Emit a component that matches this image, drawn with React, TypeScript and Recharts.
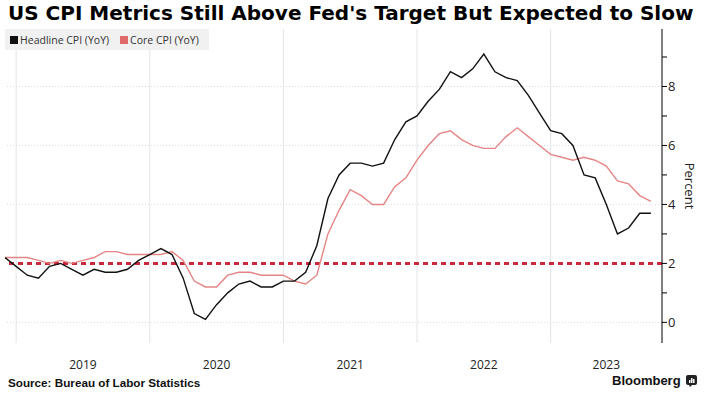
import React from 'react';
import { LineChart, Line, XAxis, YAxis, ReferenceLine, Legend } from 'recharts';

// Monthly observations, Nov 2018 .. Sep 2023 (plotted at month end)
const months = [
  '2018-11','2018-12',
  '2019-01','2019-02','2019-03','2019-04','2019-05','2019-06','2019-07','2019-08','2019-09','2019-10','2019-11','2019-12',
  '2020-01','2020-02','2020-03','2020-04','2020-05','2020-06','2020-07','2020-08','2020-09','2020-10','2020-11','2020-12',
  '2021-01','2021-02','2021-03','2021-04','2021-05','2021-06','2021-07','2021-08','2021-09','2021-10','2021-11','2021-12',
  '2022-01','2022-02','2022-03','2022-04','2022-05','2022-06','2022-07','2022-08','2022-09','2022-10','2022-11','2022-12',
  '2023-01','2023-02','2023-03','2023-04','2023-05','2023-06','2023-07','2023-08','2023-09',
];

const headlineCPI = [
  2.2, 1.9,
  1.6, 1.5, 1.9, 2.0, 1.8, 1.6, 1.8, 1.7, 1.7, 1.8, 2.1, 2.3,
  2.5, 2.3, 1.5, 0.3, 0.1, 0.6, 1.0, 1.3, 1.4, 1.2, 1.2, 1.4,
  1.4, 1.7, 2.6, 4.2, 5.0, 5.4, 5.4, 5.3, 5.4, 6.2, 6.8, 7.0,
  7.5, 7.9, 8.5, 8.3, 8.6, 9.1, 8.5, 8.3, 8.2, 7.7, 7.1, 6.5,
  6.4, 6.0, 5.0, 4.9, 4.0, 3.0, 3.2, 3.7, 3.7,
];

const coreCPI = [
  2.2, 2.2,
  2.2, 2.1, 2.0, 2.1, 2.0, 2.1, 2.2, 2.4, 2.4, 2.3, 2.3, 2.3,
  2.3, 2.4, 2.1, 1.4, 1.2, 1.2, 1.6, 1.7, 1.7, 1.6, 1.6, 1.6,
  1.4, 1.3, 1.6, 3.0, 3.8, 4.5, 4.3, 4.0, 4.0, 4.6, 4.9, 5.5,
  6.0, 6.4, 6.5, 6.2, 6.0, 5.9, 5.9, 6.3, 6.6, 6.3, 6.0, 5.7,
  5.6, 5.5, 5.6, 5.5, 5.3, 4.8, 4.7, 4.3, 4.1,
];

const fedTarget = 2;

// x is measured in months from 1 Jan 2019
const yearBoundaries = [0, 12, 24, 36, 48];
const yearTickPositions = [6, 18, 30, 42, 53];
const yearLabels = ['2019', '2020', '2021', '2022', '2023'];
const yTicks = [0, 1, 2, 3, 4, 5, 6, 7, 8, 9];
const yGridValues = [0, 2, 4, 6, 8];

const HEADLINE_COLOR = '#111111';
const CORE_COLOR = '#e58585';
const TARGET_COLOR = '#c8283c';

const data = months.map((m, i) => ({
  month: m,
  t: i - 1,
  headline: headlineCPI[i],
  core: coreCPI[i],
}));

const FONT = '"Open Sans", "DejaVu Sans", sans-serif';

const YTick = (props: any) => {
  const { x, y, payload } = props;
  const major = payload.value % 2 === 0;
  return (
    <g>
      <line x1={x} x2={x + 5} y1={y} y2={y} stroke="#000" strokeWidth={1} />
      {major && (
        <text x={x + 6} y={y} dy="0.36em" fontSize={13} fill="#222" fontFamily={FONT} textAnchor="start">
          {payload.value}
        </text>
      )}
    </g>
  );
};

const renderLegend = () => (
  <div
    style={{
      background: '#f1f1f1',
      width: 204,
      height: 21,
      display: 'flex',
      alignItems: 'center',
      fontFamily: FONT,
      fontSize: 10.5,
      color: '#333',
      boxSizing: 'border-box',
      paddingLeft: 5,
    }}
  >
    <span style={{ width: 8, height: 8, background: HEADLINE_COLOR, display: 'inline-block', marginRight: 2 }} />
    <span>Headline CPI (YoY)</span>
    <span style={{ width: 8, height: 8, background: '#e06a6a', display: 'inline-block', marginLeft: 11, marginRight: 2 }} />
    <span>Core CPI (YoY)</span>
  </div>
);

export default function App() {
  return (
    <div style={{ position: 'absolute', left: 0, top: 0, width: 707, height: 394, background: '#fff', overflow: 'hidden' }}>
      <div
        style={{
          position: 'absolute',
          left: 8,
          top: 1,
          fontFamily: '"DejaVu Sans", sans-serif',
          fontWeight: 'bold',
          fontSize: 20,
          lineHeight: '25px',
          color: '#000',
          whiteSpace: 'nowrap',
        }}
      >
        US CPI Metrics Still Above Fed's Target But Expected to Slow
      </div>
      <div style={{ position: 'absolute', left: 0, top: 0 }}>
        <LineChart width={707} height={394} data={data} margin={{ top: 29, right: 5, bottom: 21, left: 5 }}>
          <XAxis
            dataKey="t"
            type="number"
            domain={[-1, 58]}
            ticks={yearTickPositions}
            tickFormatter={(v: number) => yearLabels[yearTickPositions.indexOf(v)]}
            axisLine={false}
            tickLine={false}
            tickSize={0}
            tickMargin={17}
            height={30}
            interval={0}
            tick={{ fontSize: 12, fill: '#222', fontFamily: FONT }}
            allowDataOverflow
          />
          <YAxis
            orientation="right"
            type="number"
            domain={[-0.7, 9.95]}
            ticks={yTicks}
            interval={0}
            allowDataOverflow
            width={40}
            axisLine={{ stroke: '#000', strokeWidth: 1 }}
            tickLine={false}
            tickSize={0}
            tickMargin={0}
            tick={<YTick />}
          />
          {yearBoundaries.map((b) => (
            <ReferenceLine key={'v' + b} x={b} stroke="#e4e4e4" strokeWidth={1} />
          ))}
          {yGridValues.map((g) => (
            <ReferenceLine key={'h' + g} y={g} stroke="#dcdcdc" strokeWidth={1} strokeDasharray="1 2" />
          ))}
          <ReferenceLine y={fedTarget} stroke={TARGET_COLOR} strokeWidth={3} strokeDasharray="5 4" />
          <Line type="linear" dataKey="core" stroke={CORE_COLOR} strokeWidth={1.4} dot={false} isAnimationActive={false} />
          <Line type="linear" dataKey="headline" stroke={HEADLINE_COLOR} strokeWidth={1.4} dot={false} isAnimationActive={false} />
          <Legend
            content={renderLegend}
            layout="horizontal"
            verticalAlign="middle"
            align="center"
            wrapperStyle={{ position: 'absolute', left: 5, top: 29, width: 204, height: 21 }}
          />
        </LineChart>
      </div>
      <div
        style={{
          position: 'absolute',
          left: 690,
          top: 186,
          transform: 'translate(-50%, -50%) rotate(90deg)',
          fontFamily: FONT,
          fontSize: 13,
          color: '#222',
          whiteSpace: 'nowrap',
        }}
      >
        Percent
      </div>
      <div
        style={{
          position: 'absolute',
          left: 8,
          top: 375,
          fontFamily: '"Liberation Sans", sans-serif',
          fontWeight: 'bold',
          fontSize: 11.7,
          lineHeight: '15px',
          color: '#111',
          whiteSpace: 'nowrap',
        }}
      >
        Source: Bureau of Labor Statistics
      </div>
      <div
        style={{
          position: 'absolute',
          left: 612,
          top: 373,
          fontFamily: '"Liberation Sans", sans-serif',
          fontWeight: 'bold',
          fontSize: 13,
          lineHeight: '16px',
          color: '#111',
          whiteSpace: 'nowrap',
          display: 'flex',
          alignItems: 'center',
        }}
      >
        <span>Bloomberg</span>
        <svg width={11} height={12} style={{ marginLeft: 5 }}>
          <rect x={0} y={0} width={11} height={10} rx={2} fill="#222" />
          <polygon points="3,10 6,10 4,12" fill="#222" />
          <rect x={3} y={5} width={1.5} height={3} fill="#fff" />
          <rect x={5} y={3} width={1.5} height={5} fill="#fff" />
          <rect x={7} y={4} width={1.5} height={4} fill="#fff" />
        </svg>
      </div>
    </div>
  );
}
